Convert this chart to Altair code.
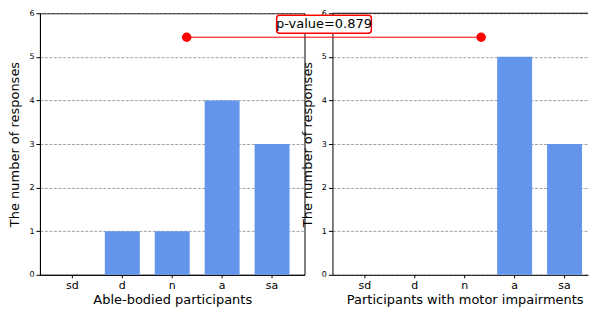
import altair as alt
import pandas as pd

# ---- data ----
categories = ["sd", "d", "n", "a", "sa"]
able_bodied = [0, 1, 1, 4, 3]
motor_impaired = [0, 0, 0, 5, 3]
p_label = "p-value=0.879"
bracket_y = 5.45

BAR = "#6495ED"
FONT = "DejaVu Sans"
W, H = 265, 262
W2 = 256  # right panel is cut by the window edge


def y_axis():
    return alt.Axis(
        values=[0, 1, 2, 3, 4, 5, 6], format="d", labelFontSize=8, tickSize=4,
        titleFontSize=13, titleFontWeight="normal", grid=True, gridDash=[3, 1.5],
        gridColor="#8a8a8a", gridWidth=0.8, domainColor="black", tickColor="black",
        labelColor="black", titleColor="black", labelPadding=2, titlePadding=7,
    )


def x_axis(**kw):
    return alt.Axis(
        labelAngle=0, labelFontSize=11, titleFontSize=13, titleFontWeight="normal",
        tickSize=3, grid=False, domainColor="black", tickColor="black",
        labelColor="black", titleColor="black", labelPadding=2, titlePadding=3, **kw
    )


def bars(values, xtitle, xscale, xaxis):
    df = pd.DataFrame({"cat": categories, "n": values})
    return alt.Chart(df).mark_bar(color=BAR).encode(
        x=alt.X("cat:N", sort=categories, title=xtitle, scale=xscale, axis=xaxis),
        y=alt.Y("n:Q", title="The number of responses",
                scale=alt.Scale(domain=[0, 6], nice=False), axis=y_axis()),
    )


# annotation positions in units of a full panel width, measured from the right panel's axis
ax = alt.Scale(domain=[0, W2 / W], nice=False, zero=False)
ay = alt.Scale(domain=[0, 6], nice=False)
left_dot, right_dot = -0.551, 0.562

line_df = pd.DataFrame({"x": [left_dot], "x2": [right_dot], "y": [bracket_y]})
dots_df = pd.DataFrame({"x": [left_dot, right_dot], "y": [bracket_y, bracket_y]})
box_df = pd.DataFrame({"x": [-0.211], "x2": [0.147], "y": [5.542], "y2": [5.954],
                       "xc": [-0.032], "yc": [5.748], "label": [p_label]})
top_df = pd.DataFrame({"x": [0], "x2": [W2 / W], "y": [6]})

top_rule = alt.Chart(top_df).mark_rule(color="black", strokeWidth=1, clip=False).encode(
    x=alt.X("x:Q", scale=ax, axis=None), x2="x2:Q",
    y=alt.Y("y:Q", scale=ay, axis=None))
rule = alt.Chart(line_df).mark_rule(color="red", strokeWidth=1, clip=False).encode(
    x=alt.X("x:Q", scale=ax, axis=None), x2="x2:Q",
    y=alt.Y("y:Q", scale=ay, axis=None))
dots = alt.Chart(dots_df).mark_circle(color="red", size=90, opacity=1, clip=False).encode(
    x=alt.X("x:Q", scale=ax, axis=None), y=alt.Y("y:Q", scale=ay, axis=None))
box = alt.Chart(box_df).mark_rect(fill="white", stroke="red", strokeWidth=1.5,
                                  cornerRadius=3, clip=False).encode(
    x=alt.X("x:Q", scale=ax, axis=None), x2="x2:Q",
    y=alt.Y("y:Q", scale=ay, axis=None), y2="y2:Q")
txt = alt.Chart(box_df).mark_text(fontSize=13, color="black", font=FONT, clip=False).encode(
    x=alt.X("xc:Q", scale=ax, axis=None), y=alt.Y("yc:Q", scale=ay, axis=None),
    text="label:N")

left = bars(able_bodied, "Able-bodied participants",
            alt.Scale(paddingInner=0.3, paddingOuter=0.3), x_axis()).properties(width=W, height=H)

# same 50px step and left offset as the left panel, narrower view
right_scale = alt.Scale(paddingInner=0.3, paddingOuter=0.21, align=0.714)
right = alt.layer(
    bars(motor_impaired, "Participants with motor impairments", right_scale,
         x_axis(titleX=W / 2)),
    top_rule, rule, dots, box, txt,
).resolve_scale(x="independent", y="independent").properties(
    width=W2, height=H, view=alt.ViewBackground(strokeOpacity=0)
)

chart = alt.hconcat(left, right, spacing=28, bounds="flush").properties(
    padding={"left": 0, "top": 0, "right": 0, "bottom": 0}
).configure(font=FONT).configure_view(stroke="black", strokeWidth=1)

chart.save("out.html", embed_options={"renderer": "svg", "actions": False})
